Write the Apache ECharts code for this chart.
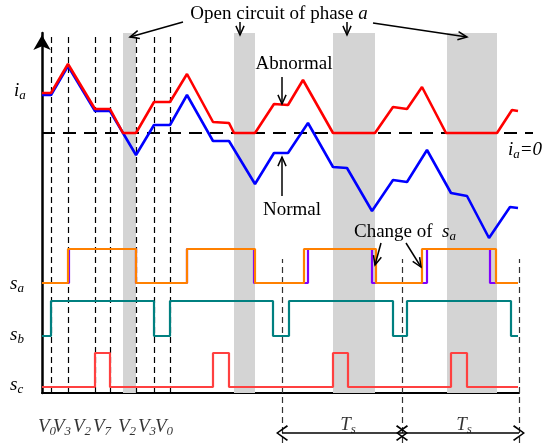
<!DOCTYPE html>
<html><head><meta charset="utf-8">
<script src="https://cdn.jsdelivr.net/npm/echarts@6/dist/echarts.min.js"></script>
<style>html,body{margin:0;padding:0;background:#fff}#c{width:557px;height:443px}</style>
</head><body><div id="c"></div>
<script>
// ---- data (time in arbitrary units from the origin, current in p.u.) ----
const redT  = [0, 9, 26, 53, 68, 81, 94, 112, 128, 145, 171, 187, 192, 213, 232, 246, 261, 291, 333, 351, 365, 380, 404, 455, 470, 476];
const redI  = [0.40, 0.40, 0.69, 0.24, 0.24, 0, 0, 0.31, 0.31, 0.59, 0.11, 0.10, 0, 0, 0.29, 0.28, 0.53, 0, 0, 0.26, 0.24, 0.46, 0, 0, 0.23, 0.22];
const blueT = [0, 9, 26, 53, 68, 94, 112, 128, 145, 171, 187, 213, 232, 246, 266, 291, 305, 330, 351, 365, 385, 409, 425, 447, 468, 476];
const blueI = [0.38, 0.38, 0.67, 0.22, 0.22, -0.22, 0.08, 0.08, 0.38, -0.08, -0.08, -0.51, -0.20, -0.20, 0.10, -0.34, -0.35, -0.78, -0.47, -0.49, -0.17, -0.60, -0.63, -1.05, -0.74, -0.75];

const sLevels = [0, 1, 0, 1, 0, 1, 0, 1, 0, 0];
const saAbnT = [0, 26, 94, 145, 213, 262, 334, 380, 454, 476];
const saNorT = [0, 27, 94, 145, 212, 266, 330, 385, 448, 476];
const sbT    = [0, 9, 112, 128, 231, 247, 351, 365, 469, 476];
const scT    = [0, 53, 68, 171, 187, 291, 306, 409, 425, 476];

const faultBands = [[81, 94], [192, 213], [291, 333], [405, 455]];
const vectorLines = [9, 26, 53, 68, 94, 112, 128];
const periodLines = [240, 360, 477];
const vectorNames = ['0', '3', '2', '7', '2', '3', '0'];
const vectorPos   = [5, 20, 40, 60, 85, 105, 122];
const tsPos = [306, 422];

// ---- helpers ----
const FONT = '"Liberation Serif", "Times New Roman", serif';
const zip = (a, b) => a.map((v, i) => [v, b[i]]);
const hiddenAxis = (gi, min, max) => ({ type: 'value', gridIndex: gi, min, max, show: false });

function arrow(x1, y1, x2, y2, head) {
  head = head || 10;
  const ang = Math.atan2(y2 - y1, x2 - x1);
  const a1 = ang + Math.PI - 0.42, a2 = ang + Math.PI + 0.42;
  return {
    type: 'group', z: 100, children: [
      { type: 'line', z: 100, shape: { x1, y1, x2, y2 }, style: { stroke: '#000', lineWidth: 1.5 } },
      { type: 'polyline', z: 100, shape: { points: [[x2 + head * Math.cos(a1), y2 + head * Math.sin(a1)], [x2, y2], [x2 + head * Math.cos(a2), y2 + head * Math.sin(a2)]] },
        style: { stroke: '#000', lineWidth: 1.5, fill: 'none' } }
    ]
  };
}
function txt(x, y, text, align) {
  return { type: 'text', z: 100, x, y, style: {
    text, fill: '#000', font: '19px ' + FONT, align: align || 'center', verticalAlign: 'middle',
    rich: {
      n: { fontFamily: FONT, fontSize: 19 },
      it: { fontFamily: FONT, fontSize: 19, fontStyle: 'italic' },
      sub: { fontFamily: FONT, fontSize: 13, fontStyle: 'italic', padding: [9, 0, 0, 0] }
    } } };
}

const chevron = 'path://M0,0 L6,10 L5,11 L0,2.2 L-5,11 L-6,10 Z';
const subRich = {
  v: { fontFamily: FONT, fontSize: 19, fontStyle: 'italic', color: '#000' },
  sub: { fontFamily: FONT, fontSize: 13, fontStyle: 'italic', color: '#000', padding: [9, 0, 0, 0] }
};

const chart = echarts.init(document.getElementById('c'), null, { renderer: 'canvas' });
chart.setOption({
  animation: false,
  backgroundColor: '#fff',
  grid: [
    { left: 42, top: 33, width: 477, height: 360 },   // 0 background: bands, vector lines, y axis
    { left: 42, top: 33, width: 491, height: 210 },   // 1 current
    { left: 42, top: 249, width: 477, height: 34 },   // 2 s_a
    { left: 42, top: 301, width: 477, height: 35 },   // 3 s_b
    { left: 42, top: 353, width: 477, height: 40 },   // 4 s_c + time axis
    { left: 42, top: 259, width: 477, height: 184 }   // 5 period annotations
  ],
  xAxis: [
    hiddenAxis(0, 0, 477), hiddenAxis(1, 0, 491), hiddenAxis(2, 0, 477), hiddenAxis(3, 0, 477),
    { type: 'value', gridIndex: 4, min: 0, max: 477,
      axisLine: { show: true, onZero: false, lineStyle: { color: '#000', width: 2 } },
      axisTick: { show: false }, axisLabel: { show: false }, splitLine: { show: false } },
    hiddenAxis(5, 0, 477)
  ],
  yAxis: [
    { type: 'value', gridIndex: 0, min: 0, max: 1,
      axisLine: { show: true, symbol: ['none', 'arrow'], symbolSize: [13, 15], symbolOffset: [0, -2],
        lineStyle: { color: '#000', width: 2.5 } },
      axisTick: { show: false }, axisLabel: { show: false }, splitLine: { show: false } },
    hiddenAxis(1, -1.1, 1.0), hiddenAxis(2, 0, 1), hiddenAxis(3, 0, 1), hiddenAxis(4, -0.176, 1), hiddenAxis(5, 0, 1)
  ],
  series: [
    { type: 'line', xAxisIndex: 0, yAxisIndex: 0, data: [], silent: true, z: 1,
      markArea: { silent: true, itemStyle: { color: '#d4d4d4' },
        data: faultBands.map(b => [{ xAxis: b[0], yAxis: 0 }, { xAxis: b[1], yAxis: 1 }]) },
      markLine: { silent: true, symbol: 'none', label: { show: false },
        lineStyle: { color: '#000', width: 1.2, type: [6, 4] },
        data: vectorLines.map(v => ({ xAxis: v })) } },
    { type: 'line', xAxisIndex: 5, yAxisIndex: 5, data: [], silent: true, z: 2, clip: false,
      markLine: { silent: true, symbol: 'none', label: { show: false },
        lineStyle: { color: '#333', width: 1.2, type: [6, 4] },
        data: periodLines.map(v => ({ xAxis: v })) } },
    { type: 'line', xAxisIndex: 5, yAxisIndex: 5, data: [], silent: true, z: 3, clip: false,
      markLine: { silent: true, symbol: [chevron, chevron], symbolSize: [16, 12], label: { show: false },
        lineStyle: { color: '#000', width: 1.6, type: 'solid' },
        data: [[{ coord: [periodLines[0], 0.054] }, { coord: [periodLines[1], 0.054] }],
               [{ coord: [periodLines[1], 0.054] }, { coord: [periodLines[2], 0.054] }]] } },
    { type: 'scatter', xAxisIndex: 5, yAxisIndex: 5, symbolSize: 0, silent: true, z: 5,
      data: tsPos.map(x => [x, 0.098]),
      label: { show: true, position: 'inside', formatter: '{v|T}{sub|s}', rich: subRich } },
    { type: 'scatter', xAxisIndex: 5, yAxisIndex: 5, symbolSize: 0, silent: true, z: 5,
      data: vectorPos.map((x, i) => ({ value: [x, 0.087], name: vectorNames[i] })),
      label: { show: true, position: 'inside', formatter: p => '{v|V}{sub|' + p.name + '}', rich: subRich } },
    { type: 'line', xAxisIndex: 1, yAxisIndex: 1, data: [[0, 0], [491, 0]], symbol: 'none', z: 4,
      lineStyle: { color: '#000', width: 2.2, type: [13, 8] } },
    { type: 'line', name: 'Normal', xAxisIndex: 1, yAxisIndex: 1, data: zip(blueT, blueI), symbol: 'none', z: 5,
      lineStyle: { color: '#0000ff', width: 2.6 } },
    { type: 'line', name: 'Abnormal', xAxisIndex: 1, yAxisIndex: 1, data: zip(redT, redI), symbol: 'none', z: 6,
      lineStyle: { color: '#ff0000', width: 2.6 } },
    { type: 'line', xAxisIndex: 2, yAxisIndex: 2, data: zip(saNorT, sLevels), step: 'end', symbol: 'none', z: 5, clip: false,
      lineStyle: { color: '#8000ff', width: 2.2 } },
    { type: 'line', xAxisIndex: 2, yAxisIndex: 2, data: zip(saAbnT, sLevels), step: 'end', symbol: 'none', z: 6, clip: false,
      lineStyle: { color: '#ff8000', width: 2.2 } },
    { type: 'line', xAxisIndex: 3, yAxisIndex: 3, data: zip(sbT, sLevels), step: 'end', symbol: 'none', z: 5, clip: false,
      lineStyle: { color: '#008080', width: 2.2 } },
    { type: 'line', xAxisIndex: 4, yAxisIndex: 4, data: zip(scT, sLevels), step: 'end', symbol: 'none', z: 5, clip: false,
      lineStyle: { color: '#ff4040', width: 2.2 } }
  ],
  graphic: [
    txt(279, 14, '{n|Open circuit of phase }{it|a}'),
    arrow(183, 22, 130, 37), arrow(240, 22, 240, 35), arrow(347, 22, 347, 35), arrow(373, 23, 467, 37),
    txt(294, 64, '{n|Abnormal}'), arrow(282, 77, 282, 104),
    txt(292, 210, '{n|Normal}'), arrow(282, 196, 282, 157),
    txt(508, 150, '{it|i}{sub|a}{it|=0}', 'left'),
    txt(354, 232, '{n|Change of  }{it|s}{sub|a}', 'left'),
    arrow(381, 243, 375, 265), arrow(406, 243, 421, 267),
    txt(14, 91, '{it|i}{sub|a}', 'left'),
    txt(10, 284, '{it|s}{sub|a}', 'left'),
    txt(10, 335, '{it|s}{sub|b}', 'left'),
    txt(10, 385, '{it|s}{sub|c}', 'left')
  ]
});
</script></body></html>
